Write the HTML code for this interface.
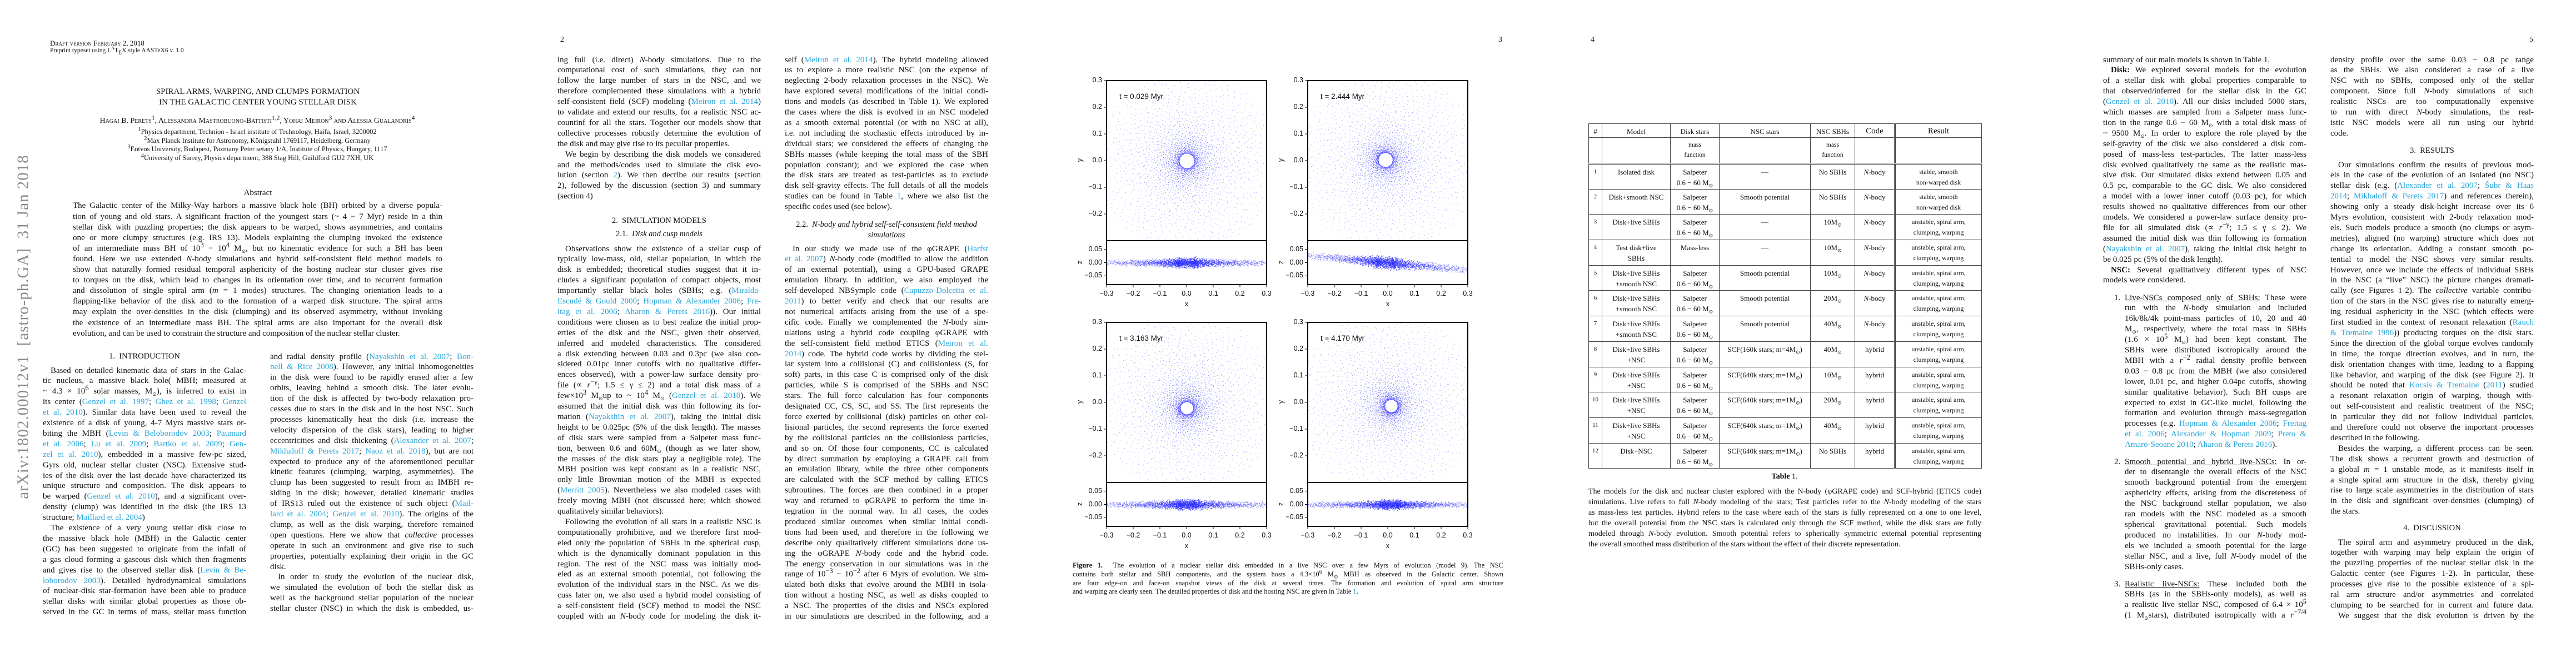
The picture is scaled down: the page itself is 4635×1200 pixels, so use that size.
<!DOCTYPE html>
<html><head><meta charset="utf-8">
<style>
html,body{margin:0;padding:0;background:#fff}
body{width:4635px;height:1200px;position:relative;overflow:hidden;font-family:"Liberation Serif",serif;color:#111}
sub,sup{line-height:0}
.abs{position:absolute}
.ln{position:absolute;white-space:nowrap;text-align:justify;text-align-last:justify;box-sizing:border-box;overflow:visible}
.ln.e{text-align-last:left}
.c{color:#2aa6dc}
.ctr{position:absolute;text-align:center;white-space:nowrap}
.pn{position:absolute;font-size:14px}
table.t{position:absolute;left:2858px;top:222px;width:707px;border-collapse:collapse;font-size:13px;table-layout:fixed}
table.t td{border:1px solid #444;text-align:center;vertical-align:top;padding:4px 1px 0 1px;line-height:19px;overflow:hidden;white-space:nowrap;box-sizing:border-box}
table.t td.r{border-left:3px double #444}
table.t tr.h2 td{border-bottom:3px double #444}
.tick{font-family:"Liberation Sans",sans-serif;font-size:12.5px;position:absolute;white-space:nowrap}
</style></head><body>

<div class="abs" style="left:42px;top:588px;transform:translate(-50%,-50%) rotate(-90deg);font-size:29px;color:#8a8a8a;white-space:nowrap;letter-spacing:1px">arXiv:1802.00012v1&nbsp; [astro-ph.GA]&nbsp; 31 Jan 2018</div>

<div class="abs" style="left:90px;top:70px;font-size:13px;font-variant:small-caps">Draft version February 2, 2018</div>
<div class="abs" style="left:90px;top:85px;font-size:11.5px">Preprint typeset using L<sup style="font-size:8px">A</sup>T<sub style="font-size:10px">E</sub>X style AASTeX6 v. 1.0</div>

<div class="ctr" style="left:264px;width:400px;top:156px;font-size:15px;line-height:19px">SPIRAL ARMS, WARPING, AND CLUMPS FORMATION<br>IN THE GALACTIC CENTER YOUNG STELLAR DISK</div>
<div class="ctr" style="left:129px;width:668px;top:210px;font-size:14px;font-variant:small-caps">Hagai B. Perets<sup>1</sup>, Alessandra Mastrobuono-Battisti<sup>1,2</sup>, Yohai Meiron<sup>3</sup> and Alessia Gualandris<sup>4</sup></div>
<div class="ctr" style="left:129px;width:668px;top:230px;font-size:12.5px;line-height:15.7px"><sup>1</sup>Physics department, Technion - Israel institute of Technology, Haifa, Israel, 3200002<br><sup>2</sup>Max Planck Institute for Astronomy, Königstuhl 1769117, Heidelberg, Germany<br><sup>3</sup>Eotvos University, Budapest, Pazmany Peter setany 1/A, Institute of Physics, Hungary, 1117<br><sup>4</sup>University of Surrey, Physics department, 388 Stag Hill, Guildford GU2 7XH, UK</div>
<div class="ctr" style="left:364px;width:200px;top:339px;font-size:15px">Abstract</div>
<div class="abs" id="abs"></div>

<div class="ctr" style="left:160px;width:200px;top:633px;font-size:14.5px">1.&nbsp; INTRODUCTION</div>
<div class="abs" id="p1l"></div>
<div class="abs" id="p1r"></div>

<div class="pn" style="left:1008px;top:64px">2</div>
<div class="abs" id="p2l"></div>
<div class="abs" id="p2r"></div>
<div class="ctr" style="left:1086px;width:200px;top:389px;font-size:14.5px">2.&nbsp; SIMULATION MODELS</div>
<div class="ctr" style="left:1086px;width:200px;top:413px;font-size:14.5px">2.1.&nbsp; <i>Disk and cusp models</i></div>
<div class="ctr" style="left:1412px;width:366px;top:395px;font-size:14.5px;line-height:19px">2.2.&nbsp; <i>N-body and hybrid self-self-consistent field method</i><br><i>simulations</i></div>

<div class="pn" style="left:2696px;top:64px">3</div>
<svg class="abs" id="fig" style="left:0;top:0" width="4635" height="1200"></svg>
<div class="abs" id="figcap"></div>

<div class="pn" style="left:2862px;top:64px">4</div>
<table class="t">
<colgroup><col style="width:24px"><col style="width:123px"><col style="width:88px"><col style="width:164px"><col style="width:80px"><col style="width:72px"><col style="width:156px"></colgroup>
<tr style="height:25px"><td>#</td><td>Model</td><td>Disk stars</td><td>NSC stars</td><td>NSC SBHs</td><td style="font-size:15px">Code</td><td class="r" style="font-size:15px">Result</td></tr>
<tr class="h2" style="height:47px"><td></td><td></td><td style="font-size:11.5px;line-height:18px">mass<br>function</td><td></td><td style="font-size:11.5px;line-height:18px">mass<br>function</td><td></td><td class="r"></td></tr>
<tbody id="tbody"></tbody>
</table>
<div class="ctr" style="left:3111px;width:200px;top:850px;font-size:14px"><b>Table</b> 1.</div>
<div class="abs" id="tabcap"></div>

<div class="pn" style="left:4551px;top:64px">5</div>
<div class="abs" id="p5l"></div>
<div class="abs" id="p5r"></div>
<div class="ctr" style="left:4276px;width:200px;top:263px;font-size:14.5px">3.&nbsp; RESULTS</div>
<div class="ctr" style="left:4276px;width:200px;top:942px;font-size:14.5px">4.&nbsp; DISCUSSION</div>

<script>
// ---------- figure data ----------
const snapTimes = ["0.029", "2.444", "3.163", "4.170"];
const ringCenterX = [0.0, -0.012, 0.0, 0.015];
const ringCenterY = [0.0, 0.005, -0.025, -0.015];
const holeRadius = [0.028, 0.027, 0.024, 0.024];
const zTilt = [0.0, -0.09, 0.0, 0.0];
const zThickness = [0.02, 0.024, 0.02, 0.019];
const xTickValues = [-0.3, -0.2, -0.1, 0.0, 0.1, 0.2, 0.3];
const xTickLabels = ["\u22120.3", "\u22120.2", "\u22120.1", "0.0", "0.1", "0.2", "0.3"];
const yTickValues = [0.3, 0.2, 0.1, 0.0, -0.1, -0.2];
const yTickLabels = ["0.3", "0.2", "0.1", "0.0", "\u22120.1", "\u22120.2"];
const zTickValues = [0.05, 0.0, -0.05];
const zTickLabels = ["0.05", "0.00", "\u22120.05"];

const panelLeft = [1991, 2353, 1991, 2353];
const panelTop = [145, 145, 580, 580];
const FACE = 288, EDGE = 79, ZMAX = 0.083;
const NS = "http://www.w3.org/2000/svg";
const fig = document.getElementById('fig');

function halton(i, b) { let f = 1, r = 0; while (i > 0) { f /= b; r += f * (i % b); i = Math.floor(i / b); } return r; }
function sv(tag, attrs) { const e = document.createElementNS(NS, tag); for (const k in attrs) e.setAttribute(k, attrs[k]); return e; }
function txt(x, y, s, anchor) {
  const d = document.createElement('div');
  d.className = 'tick';
  d.textContent = s;
  d.style.left = x + 'px'; d.style.top = (y - 8) + 'px';
  if (anchor === 'end') d.style.transform = 'translateX(-100%)';
  if (anchor === 'middle') d.style.transform = 'translateX(-50%)';
  document.body.appendChild(d);
  return d;
}

for (let k = 0; k < snapTimes.length; k++) {
  const X0 = panelLeft[k], Y0 = panelTop[k];
  const xs = v => X0 + (v + 0.3) / 0.6 * FACE;
  const ys = v => Y0 + (0.3 - v) / 0.6 * FACE;
  const zs = v => Y0 + FACE + (ZMAX - v) / (2 * ZMAX) * EDGE;
  const g = sv('g', {});
  
  
  fig.appendChild(g);
  const pts = sv('g', { fill: '#2b2bff' });
  
  
  g.appendChild(pts);
  const N = 2600, rin = holeRadius[k], rout = 0.34;
  for (let i = 1; i <= N; i++) {
    const u1 = halton(i + 17 * k, 2), u2 = halton(i + 17 * k, 3), u3 = halton(i, 5), u4 = halton(i, 7);
    const r = rin + (rout - rin) * Math.pow(u1, 1.45);
    const th = 2 * Math.PI * u2;
    const w = Math.exp(-r / 0.12);
    const x = ringCenterX[k] * w + r * Math.cos(th);
    const y = ringCenterY[k] * w + r * Math.sin(th);
    const z = zTilt[k] * x + zThickness[k] * (u3 + u4 - 1) * (0.6 + 0.8 * w);
    const op = 0.3 + 0.5 * w;
    if (Math.abs(x) < 0.3 && Math.abs(y) < 0.3) {
      const p = sv('rect', { x: xs(x).toFixed(1), y: ys(y).toFixed(1), width: 1.3, height: 1.3, 'fill-opacity': op.toFixed(2) });
      
      
      pts.appendChild(p);
    }
    if (Math.abs(x) < 0.3 && Math.abs(z) < ZMAX) {
      const q = sv('rect', { x: xs(x).toFixed(1), y: zs(z).toFixed(1), width: 1.3, height: 1.3, 'fill-opacity': (op + 0.1).toFixed(2) });
      
      
      pts.appendChild(q);
    }
  }
  const f1 = sv('rect', { x: X0, y: Y0, width: FACE, height: FACE, fill: 'none', stroke: '#000', 'stroke-width': 2 });
  
  
  g.appendChild(f1);
  const f2 = sv('rect', { x: X0, y: Y0 + FACE, width: FACE, height: EDGE, fill: 'none', stroke: '#000', 'stroke-width': 2 });
  
  
  g.appendChild(f2);
  for (let j = 0; j < xTickValues.length; j++) {
    const X = xs(xTickValues[j]);
    g.appendChild(sv('line', { x1: X, x2: X, y1: Y0 + FACE + EDGE, y2: Y0 + FACE + EDGE + 5, stroke: '#000', 'stroke-width': 1 }));
    const t = txt(X, Y0 + FACE + EDGE + 17, xTickLabels[j], 'middle');
    
    
  }
  for (let j = 0; j < yTickValues.length; j++) {
    const Y = ys(yTickValues[j]);
    g.appendChild(sv('line', { x1: X0 - 5, x2: X0, y1: Y, y2: Y, stroke: '#000', 'stroke-width': 1 }));
    const t = txt(X0 - 8, Y, yTickLabels[j], 'end');
    
    
  }
  for (let j = 0; j < zTickValues.length; j++) {
    const Y = zs(zTickValues[j]);
    g.appendChild(sv('line', { x1: X0 - 5, x2: X0, y1: Y, y2: Y, stroke: '#000', 'stroke-width': 1 }));
    const t = txt(X0 - 8, Y, zTickLabels[j], 'end');
    
    
  }
  const xl = txt(xs(0), Y0 + FACE + EDGE + 36, 'x', 'middle');
  
  
  const yl = txt(X0 - 48, ys(0), 'y', 'middle');
  
  
  yl.style.transform = 'translateX(-50%) rotate(-90deg)';
  const zl = txt(X0 - 48, zs(0), 'z', 'middle');
  
  
  zl.style.transform = 'translateX(-50%) rotate(-90deg)';
  const tl = txt(X0 + 23, Y0 + 29, 't = ' + snapTimes[k] + ' Myr', 'start');
  
  
  tl.style.fontSize = '13.5px';
}

// ---------- text columns ----------
function col(id, x, y0, w, lh, fs, lines) {
  const c = document.getElementById(id);
  lines.forEach((s, i) => {
    const d = document.createElement('div');
    
    
    let cls = 'ln', pad = 0;
    if (s[0] === '^') { pad = 14; s = s.slice(1); }
    if (s[0] === '|') { cls += ' e'; s = s.slice(1); }
    if (s[0] === '^') { pad = 14; s = s.slice(1); }
    d.className = cls;
    d.innerHTML = s.replace(/\{([^}]*)\}/g, '<span class="c">$1</span>');
    d.style.left = x + 'px';
    d.style.top = (y0 + i * lh - lh / 2) + 'px';
    d.style.width = w + 'px';
    d.style.height = lh + 'px';
    d.style.lineHeight = lh + 'px';
    d.style.fontSize = fs + 'px';
    d.style.paddingLeft = pad + 'px';
    c.appendChild(d);
  });
}
const M = 'M<sub style="font-size:9px">\u2299</sub>';

col('abs', 131, 371, 665, 19.1, 15, [
"The Galactic center of the Milky-Way harbors a massive black hole (BH) orbited by a diverse popula-",
"tion of young and old stars. A significant fraction of the youngest stars (~ 4 \u2212 7 Myr) reside in a thin",
"stellar disk with puzzling properties; the disk appears to be warped, shows asymmetries, and contains",
"one or more clumpy structures (e.g. IRS 13). Models explaining the clumping invoked the existence",
"of an intermediate mass BH of 10<sup>3</sup> \u2212 10<sup>4</sup> "+M+", but no kinematic evidence for such a BH has been",
"found. Here we use extended <i>N</i>-body simulations and hybrid self-consistent field method models to",
"show that naturally formed residual temporal asphericity of the hosting nuclear star cluster gives rise",
"to torques on the disk, which lead to changes in its orientation over time, and to recurrent formation",
"and dissolution of single spiral arm (<i>m</i> = 1 modes) structures. The changing orientation leads to a",
"flapping-like behavior of the disk and to the formation of a warped disk structure. The spiral arms",
"may explain the over-densities in the disk (clumping) and its observed asymmetry, without invoking",
"the existence of an intermediate mass BH. The spiral arms are also important for the overall disk",
"|evolution, and can be used to constrain the structure and composition of the nuclear stellar cluster."]);

col('p1l', 77, 667, 366, 18.9, 15, [
"^Based on detailed kinematic data of stars in the Galac-",
"tic nucleus, a massive black hole( MBH; measured at",
"~ 4.3 \u00d7 10<sup>6</sup> solar masses, "+M+"), is inferred to exist in",
"its center ({Genzel et al. 1997}; {Ghez et al. 1998}; {Genzel}",
"{et al. 2010}). Similar data have been used to reveal the",
"existence of a disk of young, 4-7 Myrs massive stars or-",
"biting the MBH ({Levin &amp; Beloborodov 2003}; {Paumard}",
"{et al. 2006}; {Lu et al. 2009}; {Bartko et al. 2009}; {Gen-}",
"{zel et al. 2010}), embedded in a massive few-pc sized,",
"Gyrs old, nuclear stellar cluster (NSC). Extensive stud-",
"ies of the disk over the last decade have characterized its",
"unique structure and composition. The disk appears to",
"be warped ({Genzel et al. 2010}), and a significant over-",
"density (clump) was identified in the disk (the IRS 13",
"|structure; {Maillard et al. 2004})",
"^The existence of a very young stellar disk close to",
"the massive black hole (MBH) in the Galactic center",
"(GC) has been suggested to originate from the infall of",
"a gas cloud forming a gaseous disk which then fragments",
"and gives rise to the observed stellar disk ({Levin &amp; Be-}",
"{loborodov 2003}). Detailed hydrodynamical simulations",
"of nuclear-disk star-formation have been able to produce",
"stellar disks with similar global properties as those ob-",
"served in the GC in terms of mass, stellar mass function"]);

col('p1r', 486, 642, 366, 18.9, 15, [
"and radial density profile ({Nayakshin et al. 2007}; {Bon-}",
"{nell &amp; Rice 2008}). However, any initial inhomogeneities",
"in the disk were found to be rapidly erased after a few",
"orbits, leaving behind a smooth disk. The later evolu-",
"tion of the disk is affected by two-body relaxation pro-",
"cesses due to stars in the disk and in the host NSC. Such",
"processes kinematically heat the disk (i.e. increase the",
"velocity dispersion of the disk stars), leading to higher",
"eccentricities and disk thickening ({Alexander et al. 2007};",
"{Mikhaloff &amp; Perets 2017}; {Naoz et al. 2018}), but are not",
"expected to produce any of the aforementioned peculiar",
"kinetic features (clumping, warping, asymmetries). The",
"clump has been suggested to result from an IMBH re-",
"siding in the disk; however, detailed kinematic studies",
"of IRS13 ruled out the existence of such object ({Mail-}",
"{lard et al. 2004}; {Genzel et al. 2010}). The origins of the",
"clump, as well as the disk warping, therefore remained",
"open questions. Here we show that <i>collective</i> processes",
"operate in such an environment and give rise to such",
"properties, potentially explaining their origin in the GC",
"|disk.",
"^In order to study the evolution of the nuclear disk,",
"we simulated the evolution of both the stellar disk as",
"well as the background stellar population of the nuclear",
"stellar cluster (NSC) in which the disk is embedded, us-"]);

col('p2l', 1003, 108, 366, 18.9, 15, [
"ing full (i.e. direct) <i>N</i>-body simulations. Due to the",
"computational cost of such simulations, they can not",
"follow the large number of stars in the NSC, and we",
"therefore complemented these simulations with a hybrid",
"self-consistent field (SCF) modeling ({Meiron et al. 2014})",
"to validate and extend our results, for a realistic NSC ac-",
"countinf for all the stars. Together our models show that",
"collective processes robustly determine the evolution of",
"|the disk and may give rise to its peculiar properties.",
"^We begin by describing the disk models we considered",
"and the methods/codes used to simulate the disk evo-",
"lution (section {2}). We then decribe our results (section",
"2), followed by the discussion (section 3) and summary",
"|(section 4)"]);
col('p2l', 1003, 448, 366, 18.9, 15, [
"^Observations show the existence of a stellar cusp of",
"typically low-mass, old, stellar population, in which the",
"disk is embedded; theoretical studies suggest that it in-",
"cludes a significant population of compact objects, most",
"importantly stellar black holes (SBHs; e.g. ({Miralda-}",
"{Escud\u00e9 &amp; Gould 2000}; {Hopman &amp; Alexander 2006}; {Fre-}",
"{itag et al. 2006}; {Aharon &amp; Perets 2016})). Our initial",
"conditions were chosen as to best realize the initial prop-",
"erties of the disk and the NSC, given their observed,",
"inferred and modeled characteristics. The considered",
"a disk extending between 0.03 and 0.3pc (we also con-",
"sidered 0.01pc inner cutoffs with no qualitative differ-",
"ences observed), with a power-law surface density pro-",
"file (\u221d <i>r</i><sup>\u2212\u03b3</sup>; 1.5 \u2264 \u03b3 \u2264 2) and a total disk mass of a",
"few\u00d710<sup>3</sup> "+M+"up to ~ 10<sup>4</sup> "+M+" ({Genzel et al. 2010}). We",
"assumed that the initial disk was thin following its for-",
"mation ({Nayakshin et al. 2007}), taking the initial disk",
"height to be 0.025pc (5% of the disk length). The masses",
"of disk stars were sampled from a Salpeter mass func-",
"tion, between 0.6 and 60"+M+" (though as we later show,",
"the masses of the disk stars play a negligible role). The",
"MBH position was kept constant as in a realistic NSC,",
"only little Brownian motion of the MBH is expected",
"({Merritt 2005}). Nevertheless we also modeled cases with",
"freely moving MBH (not discussed here; which showed",
"|qualitatively similar behaviors).",
"^Following the evolution of all stars in a realistic NSC is",
"computationally prohibitive, and we therefore first mod-",
"eled only the population of SBHs in the spherical cusp,",
"which is the dynamically dominant population in this",
"region. The rest of the NSC mass was initially mod-",
"eled as an external smooth potential, not following the",
"evolution of the individual stars in the NSC. As we dis-",
"cuss later on, we also used a hybrid model consisting of",
"a self-consistent field (SCF) method to model the NSC",
"coupled with an <i>N</i>-body code for modeling the disk it-"]);

col('p2r', 1412, 108, 366, 18.9, 15, [
"self ({Meiron et al. 2014}). The hybrid modeling allowed",
"us to explore a more realistic NSC (on the expense of",
"neglecting 2-body relaxation processes in the NSC). We",
"have explored several modifications of the initial condi-",
"tions and models (as described in Table 1). We explored",
"the cases where the disk is evolved in an NSC modeled",
"as a smooth external potential (or with no NSC at all),",
"i.e. not including the stochastic effects introduced by in-",
"dividual stars; we considered the effects of changing the",
"SBHs masses (while keeping the total mass of the SBH",
"population constant); and we explored the case when",
"the disk stars are treated as test-particles as to exclude",
"disk self-gravity effects. The full details of all the models",
"studies can be found in Table {1}, where we also list the",
"|specific codes used (see below)."]);
col('p2r', 1412, 448, 366, 18.9, 15, [
"^In our study we made use of the \u03c6GRAPE ({Harfst}",
"{et al. 2007}) <i>N</i>-body code (modified to allow the addition",
"of an external potential), using a GPU-based GRAPE",
"emulation library. In addition, we also employed the",
"self-developed NBSymple code ({Capuzzo-Dolcetta et al.}",
"{2011}) to better verify and check that our results are",
"not numerical artifacts arising from the use of a spe-",
"cific code. Finally we complemented the <i>N</i>-body sim-",
"ulations using a hybrid code coupling \u03c6GRAPE with",
"the self-consistent field method ETICS ({Meiron et al.}",
"{2014}) code. The hybrid code works by dividing the stel-",
"lar system into a collisional (C) and collisionless (S, for",
"soft) parts, in this case C is comprised only of the disk",
"particles, while S is comprised of the SBHs and NSC",
"stars. The full force calculation has four components",
"designated CC, CS, SC, and SS. The first represents the",
"force exerted by collisional (disk) particles on other col-",
"lisional particles, the second represents the force exerted",
"by the collisional particles on the collisionless particles,",
"and so on. Of those four components, CC is calculated",
"by direct summation by employing a GRAPE call from",
"an emulation library, while the three other components",
"are calculated with the SCF method by calling ETICS",
"subroutines. The forces are then combined in a proper",
"way and returned to \u03c6GRAPE to perform the time in-",
"tegration in the normal way. In all cases, the codes",
"produced similar outcomes when similar initial condi-",
"tions had been used, and therefore in the following we",
"describe only qualitatively different simulations done us-",
"ing the \u03c6GRAPE <i>N</i>-body code and the hybrid code.",
"The energy conservation in our simulations was in the",
"range of 10<sup>\u22123</sup> \u2212 10<sup>\u22122</sup> after 6 Myrs of evolution. We sim-",
"ulated both disks that evolve around the MBH in isola-",
"tion without a hosting NSC, as well as disks coupled to",
"a NSC. The properties of the disks and NSCs explored",
"in our simulations are described in the following, and a"]);

col('figcap', 1930, 1018, 775, 15.7, 12.5, [
"<b>Figure 1.</b>&nbsp; The evolution of a nuclear stellar disk embedded in a live NSC over a few Myrs of evolution (model 9). The NSC",
"contains both stellar and SBH components, and the system hosts a 4.3\u00d710<sup>6</sup> "+M+" MBH as observed in the Galactic center. Shown",
"are four edge-on and face-on snapshot views of the disk at several times. The formation and evolution of spiral arm structure",
"|and warping are clearly seen. The detailed properties of disk and the hosting NSC are given in Table {1}."]);

col('tabcap', 2858, 884, 707, 19, 14, [
"The models for the disk and nuclear cluster explored with the N-body (\u03c6GRAPE code) and SCF-hybrid (ETICS code)",
"simulations. Live refers to full <i>N</i>-body modeling of the stars; Test particles refer to the <i>N</i>-body modeling of the stars",
"as mass-less test particles. Hybrid refers to the case where each of the stars is fully represented on a one to one level,",
"but the overall potential from the NSC stars is calculated only through the SCF method, while the disk stars are fully",
"modeled through <i>N</i>-body evolution. Smooth potential refers to spherically symmetric external potential representing",
"|the overall smoothed mass distribution of the stars without the effect of their discrete representation."]);

// table rows
const rowModels = ["Isolated disk","Disk+smooth NSC","Disk+live SBHs","Test disk+live<br>SBHs","Disk+live SBHs<br>+smooth NSC","Disk+live SBHs<br>+smooth NSC","Disk+live SBHs<br>+smooth NSC","Disk+live SBHs<br>+NSC","Disk+live SBHs<br>+NSC","Disk+live SBHs<br>+NSC","Disk+live SBHs<br>+NSC","Disk+NSC"];
const rowNsc = ["\u2014","Smooth potential","\u2014","\u2014","Smooth potential","Smooth potential","Smooth potential","SCF(160k stars; m=4"+M+")","SCF(640k stars; m=1"+M+")","SCF(640k stars; m=1"+M+")","SCF(640k stars; m=1"+M+")","SCF(640k stars; m=1"+M+")"];
const rowSbh = ["No SBHs","No SBHs","10"+M,"10"+M,"10"+M,"20"+M,"40"+M,"40"+M,"10"+M,"20"+M,"40"+M,"No SBHs"];
const tb = document.getElementById('tbody');
for (let i = 0; i < 12; i++) {
  const tr = document.createElement('tr');
  
  
  tr.style.height = '45.7px';
  const disk = i === 3 ? 'Mass-less' : 'Salpeter<br>0.6 \u2212 60 ' + M;
  const code = i < 7 ? '<i>N</i>-body' : 'hybrid';
  const res = i < 2 ? 'stable, smooth<br>non-warped disk' : 'unstable, spiral arm,<br>clumping, warping';
  tr.innerHTML = '<td style="font-size:11px">' + (i + 1) + '</td><td>' + rowModels[i] + '</td><td>' + disk + '</td><td>' + rowNsc[i] + '</td><td>' + rowSbh[i] + '</td><td>' + code + '</td><td class="r" style="font-size:12px">' + res + '</td>';
  tb.appendChild(tr);
}

col('p5l', 3784, 108, 366, 18.9, 15, [
"|summary of our main models is shown in Table 1.",
"^<b>Disk:</b> We explored several models for the evolution",
"of a stellar disk with global properties comparable to",
"that observed/inferred for the stellar disk in the GC",
"({Genzel et al. 2010}). All our disks included 5000 stars,",
"which masses are sampled from a Salpeter mass func-",
"tion in the range 0.6 \u2212 60 "+M+" with a total disk mass of",
"~ 9500 "+M+". In order to explore the role played by the",
"self-gravity of the disk we also considered a disk com-",
"posed of mass-less test-particles. The latter mass-less",
"disk evolved qualitatively the same as the realistic mas-",
"sive disk. Our simulated disks extend between 0.05 and",
"0.5 pc, comparable to the GC disk. We also considered",
"a model with a lower inner cutoff (0.03 pc), for which",
"results showed no qualitative differences from our other",
"models. We considered a power-law surface density pro-",
"file for all simulated disk (\u221d <i>r</i><sup>\u2212\u03b3</sup>; 1.5 \u2264 \u03b3 \u2264 2). We",
"assumed the initial disk was thin following its formation",
"({Nayakshin et al. 2007}), taking the initial disk height to",
"|be 0.025 pc (5% of the disk length).",
"^<b>NSC:</b> Several qualitatively different types of NSC",
"|models were considered."]);
const item = (n) => '<span style="position:absolute;left:-19px">' + n + '.</span>';
col('p5l', 3823, 536, 327, 18.9, 15, [
item(1)+"<u>Live-NSCs composed only of SBHs:</u> These were",
"run with the <i>N</i>-body simulation and included",
"16k/8k/4k point-mass particles of 10, 20 and 40",
M+", respectively, where the total mass in SBHs",
"(1.6 \u00d7 10<sup>5</sup> "+M+") had been kept constant. The",
"SBHs were distributed isotropically around the",
"MBH with a <i>r</i><sup>\u22122</sup> radial density profile between",
"0.03 \u2212 0.8 pc from the MBH (we also considered",
"lower, 0.01 pc, and higher 0.04pc cutoffs, showing",
"similar qualitative behavior). Such BH cusps are",
"expected to exist in GC-like nuclei, following the",
"formation and evolution through mass-segregation",
"processes (e.g. {Hopman &amp; Alexander 2006}; {Freitag}",
"{et al. 2006}; {Alexander &amp; Hopman 2009}; {Preto &amp;}",
"|{Amaro-Seoane 2010}; {Aharon &amp; Perets 2016})."]);
col('p5l', 3823, 831, 327, 18.9, 15, [
item(2)+"<u>Smooth potential and hybrid live-NSCs:</u> In or-",
"der to disentangle the overall effects of the NSC",
"smooth background potential from the emergent",
"asphericity effects, arising from the discreteness of",
"the NSC background stellar population, we also",
"ran models with the NSC modeled as a smooth",
"spherical gravitational potential. Such models",
"produced no instabilities. In our <i>N</i>-body mod-",
"els we included a smooth potential for the large",
"stellar NSC, and a live, full <i>N</i>-body model of the",
"|SBHs-only cases."]);
col('p5l', 3823, 1051, 327, 18.9, 15, [
item(3)+"<u>Realistic live-NSCs:</u> These included both the",
"SBHs (as in the SBHs-only models), as well as",
"a realistic live stellar NSC, composed of 6.4 \u00d7 10<sup>5</sup>",
"(1 "+M+"stars), distributed isotropically with a <i>r</i><sup>\u22127/4</sup>"]);

col('p5r', 4193, 108, 366, 18.9, 15, [
"density profile over the same 0.03 \u2212 0.8 pc range",
"as the SBHs. We also considered a case of a live",
"NSC with no SBHs, composed only of the stellar",
"component. Since full <i>N</i>-body simulations of such",
"realistic NSCs are too computationally expensive",
"to run with direct <i>N</i>-body simulations, the real-",
"istic NSC models were all run using our hybrid",
"|code."]);
col('p5r', 4193, 297, 366, 18.9, 15, [
"^Our simulations confirm the results of previous mod-",
"els in the case of the evolution of an isolated (no NSC)",
"stellar disk (e.g. ({Alexander et al. 2007}; {\u0160ubr &amp; Haas}",
"{2014}; {Mikhaloff &amp; Perets 2017}) and references therein),",
"showing only a steady disk-height increase over its 6",
"Myrs evolution, consistent with 2-body relaxation mod-",
"els. Such models produce a smooth (no clumps or asym-",
"metries), aligned (no warping) structure which does not",
"change its orientation. Adding a constant smooth po-",
"tential to model the NSC shows very similar results.",
"However, once we include the effects of individual SBHs",
"in the NSC (a \u201clive\u201d NSC) the picture changes dramati-",
"cally (see Figures 1-2). The <i>collective</i> variable contribu-",
"tion of the stars in the NSC gives rise to naturally emerg-",
"ing residual asphericity in the NSC (which effects were",
"first studied in the context of resonant relaxation ({Rauch}",
"{&amp; Tremaine 1996})) producing torques on the disk stars.",
"Since the direction of the global torque evolves randomly",
"in time, the torque direction evolves, and in turn, the",
"disk orientation changes with time, leading to a flapping",
"like behavior, and warping of the disk (see Figure 2). It",
"should be noted that {Kocsis &amp; Tremaine} ({2011}) studied",
"a resonant relaxation origin of warping, though with-",
"out self-consistent and realistic treatment of the NSC;",
"in particular they did not follow individual particles,",
"and therefore could not observe the important processes",
"|described in the following.",
"^Besides the warping, a different process can be seen.",
"The disk shows a recurrent growth and destruction of",
"a global <i>m</i> = 1 unstable mode, as it manifests itself in",
"a single spiral arm structure in the disk, thereby giving",
"rise to large scale asymmetries in the distribution of stars",
"in the disk and significant over-densities (clumping) of",
"|the stars."]);
col('p5r', 4193, 976, 366, 18.9, 15, [
"^The spiral arm and asymmetry produced in the disk,",
"together with warping may help explain the origin of",
"the puzzling properties of the nuclear stellar disk in the",
"Galactic center (see Figures 1-2). In particular, these",
"processes give rise to the possible existence of a spi-",
"ral arm structure and/or asymmetries and correlated",
"clumping to be searched for in current and future data.",
"^We suggest that the disk evolution is driven by the"]);
</script>
</body></html>
